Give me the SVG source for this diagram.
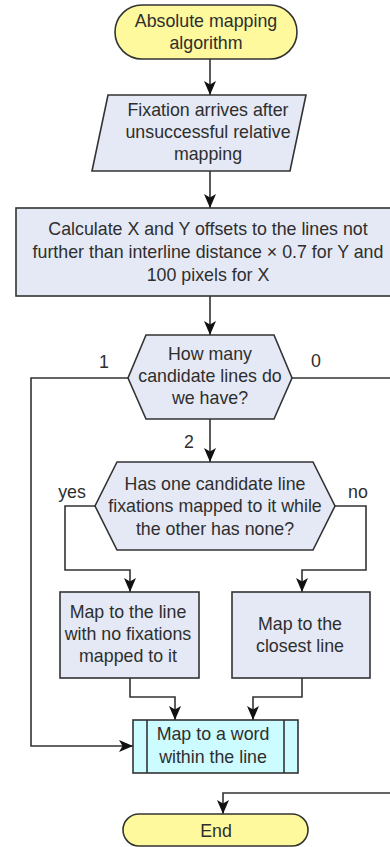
<svg xmlns="http://www.w3.org/2000/svg" width="390" height="847" viewBox="0 0 390 847">
<defs>
<style>
.t{font-family:"Liberation Sans",Arial,sans-serif;font-size:17.8px;fill:#2e2e2e;text-anchor:middle}
.term{fill:#fdf99c;stroke:#333;stroke-width:1.6}
.proc{fill:#e4e9f5;stroke:#333;stroke-width:1.6}
.sub{fill:#ccfcff;stroke:#333;stroke-width:1.6}
.c{fill:none;stroke:#333;stroke-width:1.6}
</style>
<marker id="ah" markerUnits="userSpaceOnUse" markerWidth="16" markerHeight="16" viewBox="0 0 16 16" refX="15" refY="8" orient="auto">
<path d="M1,2 L15,8 L1,14 L4.5,8 z" fill="#111"/>
</marker>
</defs>
<rect width="390" height="847" fill="#fff"/>
<g id="connectors">
<path class="c" d="M210,59 V95" marker-end="url(#ah)"/>
<path class="c" d="M210,171 V208" marker-end="url(#ah)"/>
<path class="c" d="M210,296 V335" marker-end="url(#ah)"/>
<path class="c" d="M128,378 H31 V746 H133" marker-end="url(#ah)"/>
<path class="c" d="M292,378 H395"/>
<path class="c" d="M395,793 H223 V814" marker-end="url(#ah)"/>
<path class="c" d="M210,419 V462" marker-end="url(#ah)"/>
<path class="c" d="M95,506 H65 V570 H130 V592" marker-end="url(#ah)"/>
<path class="c" d="M335,506 H366 V570 H302 V592" marker-end="url(#ah)"/>
<path class="c" d="M130,678 V697 H175 V720" marker-end="url(#ah)"/>
<path class="c" d="M302,678 V697 H253 V720" marker-end="url(#ah)"/>
<text class="t" x="104" y="368">1</text>
<text class="t" x="316" y="367">0</text>
<text class="t" x="189" y="448">2</text>
<text class="t" x="72" y="498">yes</text>
<text class="t" x="358" y="498">no</text>
</g>
<g id="start">
<rect class="term" x="115" y="5" width="182" height="54" rx="27"/>
<text class="t" x="206" y="27">Absolute mapping</text>
<text class="t" x="206" y="49">algorithm</text>
</g>
<g id="fixation">
<polygon class="proc" points="108,95 306,95 290,171 92,171"/>
<text class="t" x="208" y="116">Fixation arrives after</text>
<text class="t" x="208" y="138">unsuccessful relative</text>
<text class="t" x="208" y="160">mapping</text>
</g>
<g id="calculate">
<rect class="proc" x="16" y="208" width="384" height="88"/>
<text class="t" x="208" y="235">Calculate X and Y offsets to the lines not</text>
<text class="t" x="208" y="258">further than interline distance × 0.7 for Y and</text>
<text class="t" x="208" y="281">100 pixels for X</text>
</g>
<g id="howmany">
<polygon class="proc" points="146,335 274,335 292,378 274,419 146,419 128,378"/>
<text class="t" x="210" y="360">How many</text>
<text class="t" x="210" y="382">candidate lines do</text>
<text class="t" x="210" y="404">we have?</text>
</g>
<g id="hasone">
<polygon class="proc" points="117,462 313,462 335,506 313,550 117,550 95,506"/>
<text class="t" x="215" y="490">Has one candidate line</text>
<text class="t" x="215" y="512">fixations mapped to it while</text>
<text class="t" x="215" y="535">the other has none?</text>
</g>
<g id="nofix">
<rect class="proc" x="60" y="592" width="139" height="86"/>
<text class="t" x="128" y="618">Map to the line</text>
<text class="t" x="128" y="640">with no fixations</text>
<text class="t" x="128" y="662">mapped to it</text>
</g>
<g id="closest">
<rect class="proc" x="232" y="592" width="138" height="86"/>
<text class="t" x="300" y="630">Map to the</text>
<text class="t" x="300" y="652">closest line</text>
</g>
<g id="word">
<rect class="sub" x="133" y="720" width="165" height="53"/>
<line class="c" x1="147" y1="720" x2="147" y2="773"/>
<line class="c" x1="284" y1="720" x2="284" y2="773"/>
<text class="t" x="213" y="740">Map to a word</text>
<text class="t" x="213" y="763">within the line</text>
</g>
<g id="end">
<rect class="term" x="123" y="814" width="185" height="32" rx="16"/>
<text class="t" x="216" y="837">End</text>
</g>
</svg>
